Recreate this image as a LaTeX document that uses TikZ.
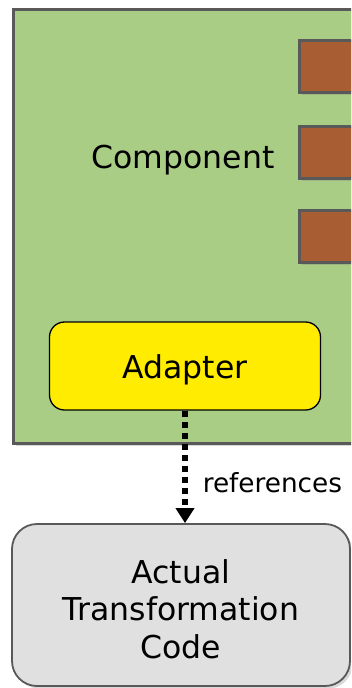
\documentclass[tikz,border=0pt]{standalone}
\usepackage{fontspec}
\setmainfont{DejaVu Sans}
\usetikzlibrary{arrows.meta,shadows}
\definecolor{compgreen}{RGB}{169,205,132}
\definecolor{portbrown}{RGB}{169,93,51}
\definecolor{edgegray}{RGB}{89,89,89}
\definecolor{adaptyellow}{RGB}{255,236,0}
\definecolor{codegray}{RGB}{224,224,224}
\tikzset{
  compbox/.style={draw=edgegray, line width=2.5pt, fill=compgreen, drop shadow={opacity=0.3}},
  portbox/.style={draw=edgegray, line width=2.5pt, fill=portbrown, anchor=north west,
    minimum width=60pt, minimum height=52pt, drop shadow={opacity=0.3}},
  adaptbox/.style={draw=black, line width=1.3pt, fill=adaptyellow, rounded corners=15pt,
    minimum width=271pt, minimum height=88pt, text height=24pt, text depth=0pt},
  codebox/.style={draw=edgegray, line width=1.8pt, fill=codegray, rounded corners=25pt,
    minimum width=338pt, minimum height=162pt, drop shadow={opacity=0.3}},
  refarrow/.style={line width=5.5pt, dash pattern=on 6pt off 5pt, -{Triangle[width=18pt,length=15pt]}},
}
\begin{document}
\begin{tikzpicture}[x=1pt, y=-1pt, font=\fontsize{31.5}{37.5}\selectfont, inner sep=0pt]
\clip (0,0) rectangle (351,688);
% component with its ports
\node[compbox, anchor=north west, minimum width=360pt, minimum height=434pt] (comp) at (12,8) {};
\node (complabel) at (183,160) {Component};
\node[portbox] (port1) at (298,39) {};
\node[portbox] (port2) at (298,125) {};
\node[portbox] (port3) at (298,209) {};
\node[adaptbox] (adapter) at (185,366) {Adapter};
% referenced code
\node[codebox] (code) at (181,605) {};
\node[align=center] (codelabel) at (181,609) {Actual\\Transformation\\Code};
\draw[refarrow] (adapter.south -| 185,0) -- (code.north -| 185,0)
  node[pos=0.64, right=15pt, font=\fontsize{26.3}{30}\selectfont] {references};
\end{tikzpicture}
\end{document}
